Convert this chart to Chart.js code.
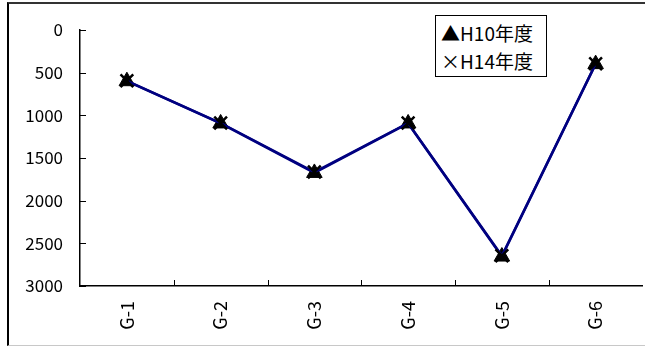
<!DOCTYPE html>
<html>
<head>
<meta charset="utf-8">
<script src="https://cdn.jsdelivr.net/npm/chart.js@4/dist/chart.umd.min.js"></script>
<style>
  html, body { margin: 0; padding: 0; background: #fff; }
  #wrap { position: relative; width: 645px; height: 346px; overflow: hidden; }
  #frame {
    position: absolute; left: 7px; top: 2px; width: 640px; height: 344px;
    border-top: 2px solid #333; border-left: 2px solid #000; border-bottom: 1px solid #c8c8c8;
    box-sizing: border-box; pointer-events: none;
  }
  #chart { position: absolute; left: 0; top: 0; }
  #legend {
    position: absolute; left: 435px; top: 15px; width: 112px; height: 62px;
    border: 1px solid #000; background: #fff; box-sizing: border-box;
    font-family: "Noto Sans CJK JP", sans-serif; font-size: 19px; color: #000;
    padding: 3px 0 0 5px; line-height: 28px; white-space: nowrap;
  }
</style>
</head>
<body>
<div id="wrap">
  <canvas id="chart" width="654" height="346"></canvas>
  <div id="frame"></div>
  <div id="legend">
    <div>▲H10年度</div>
    <div>×H14年度</div>
  </div>
</div>
<script>
// Categories and series values
const categories = ['G-1', 'G-2', 'G-3', 'G-4', 'G-5', 'G-6'];
const h10Values = [600, 1095, 1675, 1095, 2655, 400];
const h14Values = [595, 1090, 1665, 1090, 2645, 395];
const yTicks = [0, 500, 1000, 1500, 2000, 2500, 3000];

const FONT = '"Noto Sans CJK JP", sans-serif';

// Short tick marks drawn inward from the axes
const innerTicks = {
  id: 'innerTicks',
  afterDraw(chart) {
    const ctx = chart.ctx;
    const { left, bottom } = chart.chartArea;
    const y = chart.scales.y, x = chart.scales.x;
    ctx.save();
    ctx.strokeStyle = '#000';
    ctx.lineWidth = 1;
    ctx.beginPath();
    yTicks.forEach(v => {
      const py = Math.round(y.getPixelForValue(v)) + 0.5;
      ctx.moveTo(left, py);
      ctx.lineTo(left + 6, py);
    });
    for (let i = 1; i < categories.length; i++) {
      const px = Math.round((x.getPixelForValue(i - 1) + x.getPixelForValue(i)) / 2) + 0.5;
      ctx.moveTo(px, bottom);
      ctx.lineTo(px, bottom - 6);
    }
    ctx.stroke();
    ctx.restore();
  }
};

new Chart(document.getElementById('chart'), {
  type: 'line',
  data: {
    labels: categories,
    datasets: [
      {
        label: 'H14年度',
        data: h14Values,
        borderColor: '#000080',
        borderWidth: 2.5,
        pointStyle: 'crossRot',
        pointRadius: 9,
        pointBorderWidth: 2.5,
        pointBorderColor: '#000',
        pointBackgroundColor: '#000',
        tension: 0,
        order: 0
      },
      {
        label: 'H10年度',
        data: h10Values,
        borderColor: '#000080',
        borderWidth: 2.5,
        pointStyle: 'triangle',
        pointRadius: 9,
        pointBorderWidth: 1,
        pointBorderColor: '#000',
        pointBackgroundColor: '#000',
        tension: 0,
        order: 1
      }
    ]
  },
  options: {
    responsive: false,
    animation: false,
    layout: { padding: { left: 0, top: 30, right: 1, bottom: 0 } },
    plugins: { legend: { display: false }, tooltip: { enabled: false } },
    scales: {
      x: {
        offset: true,
        grid: { display: false, drawTicks: false },
        border: { display: true, color: '#000', width: 1.5 },
        ticks: {
          color: '#000',
          font: { family: FONT, size: 18 },
          minRotation: 90, maxRotation: 90,
          padding: 15
        },
        afterFit(scale) { scale.height = 60; }
      },
      y: {
        reverse: true,
        min: 0, max: 3000,
        grid: { display: false, drawTicks: false },
        border: { display: true, color: '#000', width: 1.5 },
        ticks: {
          color: '#000',
          stepSize: 500,
          font: { family: FONT, size: 17 },
          padding: 17,
          callback: v => String(v)
        },
        afterFit(scale) { scale.width = 80; }
      }
    }
  },
  plugins: [innerTicks]
});
</script>
</body>
</html>
